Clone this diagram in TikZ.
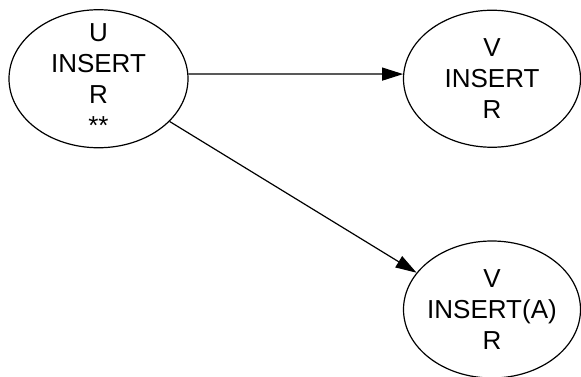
\documentclass[tikz,border=0pt]{standalone}
\usepackage{fontspec}
\setmainfont{Liberation Sans}
\usepackage{tikz}
\usetikzlibrary{shapes.geometric, arrows.meta}

\tikzset{
  state/.style={draw, ellipse, line width=1.2pt, inner sep=0pt,
    minimum width=177pt, minimum height=137pt},
  statetext/.style={align=center, inner sep=0pt,
    font=\fontsize{26pt}{31pt}\selectfont},
  edge/.style={line width=1.2pt, -{Triangle[length=21pt, width=13pt]}}
}

\begin{document}
\begin{tikzpicture}[x=1pt, y=-1pt]

  \useasboundingbox (0, 0) rectangle (581, 377);

  \node[state, minimum width=179pt, minimum height=138pt] (u) at (98.5, 78.75) {};
  \node[statetext] (utext) at (u) {U\\INSERT\\R\\**};

  \node[state] (v) at (492, 78.75) {};
  \node[statetext] (vtext) at (v) {V\\INSERT\\R};

  \node[state] (w) at (492, 309.5) {};
  \node[statetext] (wtext) at (w) {V\\INSERT(A)\\R};

  \draw[edge] (u.3) -- (v.177);
  \draw[edge] (u.-31) -- (w.154);

\end{tikzpicture}
\end{document}
